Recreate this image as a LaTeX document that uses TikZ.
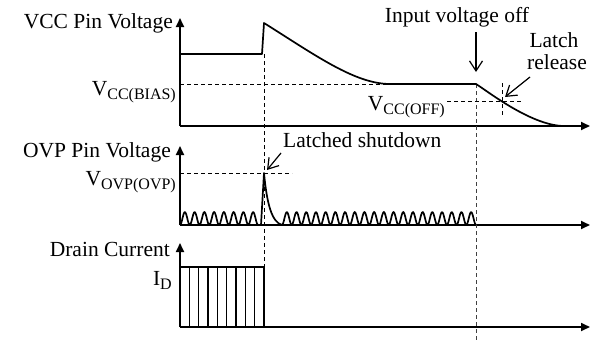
\documentclass[tikz,border=0pt]{standalone}
\usepackage{fontspec}
\setmainfont{Liberation Serif}
\usetikzlibrary{arrows.meta}
\newcommand\lowsub[1]{\raisebox{-4pt}{\fontsize{16}{16}\selectfont #1}}
\begin{document}
\begin{tikzpicture}[x=1pt,y=-1pt,
  lbl/.style={inner sep=0pt,font=\fontsize{21.5}{24}\selectfont},
  axis/.style={line width=1.7pt,-{Triangle[length=9pt,width=8pt]}},
  wave/.style={line width=1.7pt,line join=round},
  guide/.style={line width=0.9pt,dash pattern=on 4pt off 3pt},
  callout/.style={line width=1.2pt,-{Straight Barb[length=10pt,width=13pt]}}]
\useasboundingbox (0,0) rectangle (597,340);

% ---------- labels ----------
\node[lbl,anchor=base east] (vccl) at (173,28) {VCC Pin Voltage};
\node[lbl,anchor=base east] (ovpl) at (171,157) {OVP Pin Voltage};
\node[lbl,anchor=base east] (drl) at (170,256) {Drain Current};
\node[lbl,anchor=base east] (vbias) at (176,95) {V\lowsub{CC(BIAS)}};
\node[lbl,anchor=base east] (voff) at (445,110) {V\lowsub{CC(OFF)}};
\node[lbl,anchor=base east] (vovp) at (176,185) {V\lowsub{OVP(OVP)}};
\node[lbl,anchor=base east] (id) at (172,285) {I\lowsub{D}};
\node[lbl,anchor=base] (inoff) at (457,22) {Input voltage off};
\node[lbl,anchor=base] (latch) at (554,47) {Latch};
\node[lbl,anchor=base] (rel) at (557,69) {release};
\node[lbl,anchor=base west] (lsd) at (283,147) {Latched shutdown};

% ---------- axes ----------
\coordinate (o1) at (180,126);
\coordinate (o2) at (180,225);
\coordinate (o3) at (180,327);
\draw[axis] (o1) -- (180,18);
\draw[axis] (o1) -- (590,126);
\draw[axis] (o2) -- (180,146);
\draw[axis] (o2) -- (590,225);
\draw[axis] (o3) -- (180,243);
\draw[axis] (o3) -- (590,327);

% ---------- guides ----------
\draw[guide] (180,84) -- (390,84);
\draw[guide] (264,54) -- (264,267);
\draw[guide,black!75] (476,84) -- (476,340);
\draw[guide] (502,83) -- (502,117);
\draw[guide] (447,101) -- (523,101);
\draw[guide] (180,173) -- (292,173);

% ---------- VCC waveform ----------
\draw[wave] (180,54) -- (262,54) -- (264,23)
  .. controls (315,55) and (355,84) .. (390,84) -- (476,84)
  .. controls (486,90) and (530,125) .. (563,126);

% ---------- OVP waveform ----------
\draw[wave] plot[domain=180:258,samples=90] (\x,{225-6.5*(1-cos((\x-180)/9.75*360))})
  -- (261,225) -- (264,173) .. controls (267,205) and (272,222) .. (282,225);
\draw[wave] plot[domain=282:476,samples=220] (\x,{225-6.5*(1-cos((\x-282)/9.7*360))});

% ---------- drain current ----------
\draw[wave] (180,267) -- (264,267) -- (264,327);
\foreach \i in {1,...,8} \draw[line width=1.3pt] (180+\i*9.333,267) -- (180+\i*9.333,327);

% ---------- callouts ----------
\coordinate (t1) at (476,72);
\coordinate (t2) at (505,97);
\coordinate (t3) at (267,170);
\draw[callout] (476,32) -- (t1);
\draw[callout] (530,77) -- (t2);
\draw[callout] (281,153) -- (t3);
\end{tikzpicture}
\end{document}
